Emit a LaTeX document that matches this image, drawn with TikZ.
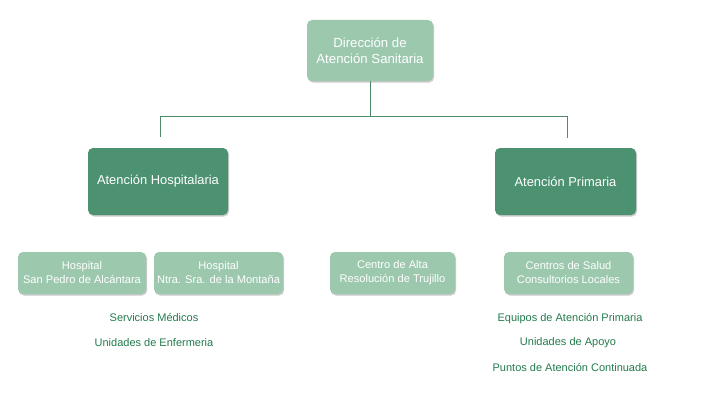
\documentclass[tikz,border=0pt]{standalone}
\usepackage{fontspec}
\setmainfont{Liberation Sans}
\usetikzlibrary{shadows}
\definecolor{lightbox}{HTML}{9CC8AE}
\definecolor{darkbox}{HTML}{4C9270}
\definecolor{linecol}{HTML}{4E8A68}
\definecolor{txtgreen}{HTML}{227A4C}
\tikzset{
  boxbase/.style={rounded corners=5pt, text=white, align=center, inner sep=0pt,
    drop shadow={shadow xshift=1pt, shadow yshift=-1.5pt, opacity=0.35, fill=black!60}},
  topbox/.style={boxbase, fill=lightbox, minimum width=126pt, minimum height=61pt,
    font=\fontsize{13.2}{16}\selectfont},
  midbox/.style={boxbase, fill=darkbox, minimum width=140pt, minimum height=67pt,
    font=\fontsize{12.9}{16}\selectfont},
  lowbox/.style={boxbase, fill=lightbox, minimum height=42pt,
    font=\fontsize{11.1}{14}\selectfont},
  item/.style={text=txtgreen, font=\fontsize{11}{12}\selectfont, inner sep=0pt},
  conn/.style={draw=linecol, line width=0.9pt}
}
\begin{document}
\begin{tikzpicture}[x=1pt, y=-1pt]
\useasboundingbox (0,0) rectangle (720,404);
\node[topbox] (top) at (370,50.5) {Dirección de\\Atención Sanitaria};
\node[midbox] (hosp) at (158,181.5) {Atención Hospitalaria};
\node[midbox, minimum width=141pt] (prim) at (565.5,181.5) {Atención Primaria};
\node[lowbox, minimum width=128pt] (sp) at (82,273) {Hospital\\San Pedro de Alcántara};
\node[lowbox, minimum width=129pt] (ntra) at (218.5,273) {Hospital\\Ntra. Sra. de la Montaña};
\node[lowbox, minimum width=125pt] (car) at (392.5,273) {Centro de Alta\\Resolución de Trujillo};
\node[lowbox, minimum width=129pt] (cs) at (568.5,273) {Centros de Salud\\Consultorios Locales};
\node[item] (sm) at (154,318) {Servicios Médicos};
\node[item] (ue) at (154,343) {Unidades de Enfermeria};
\node[item] (eap) at (570,318.5) {Equipos de Atención Primaria};
\node[item] (ua) at (568,342.5) {Unidades de Apoyo};
\node[item] (pac) at (570,367.5) {Puntos de Atención Continuada};
\coordinate (hb) at (370,116);
\coordinate (jL) at (160,137);
\coordinate (jR) at (567,138);
\draw[conn] (top.south) -- (hb) -| (jL);
\draw[conn] (hb) -| (jR);
\end{tikzpicture}
\end{document}
